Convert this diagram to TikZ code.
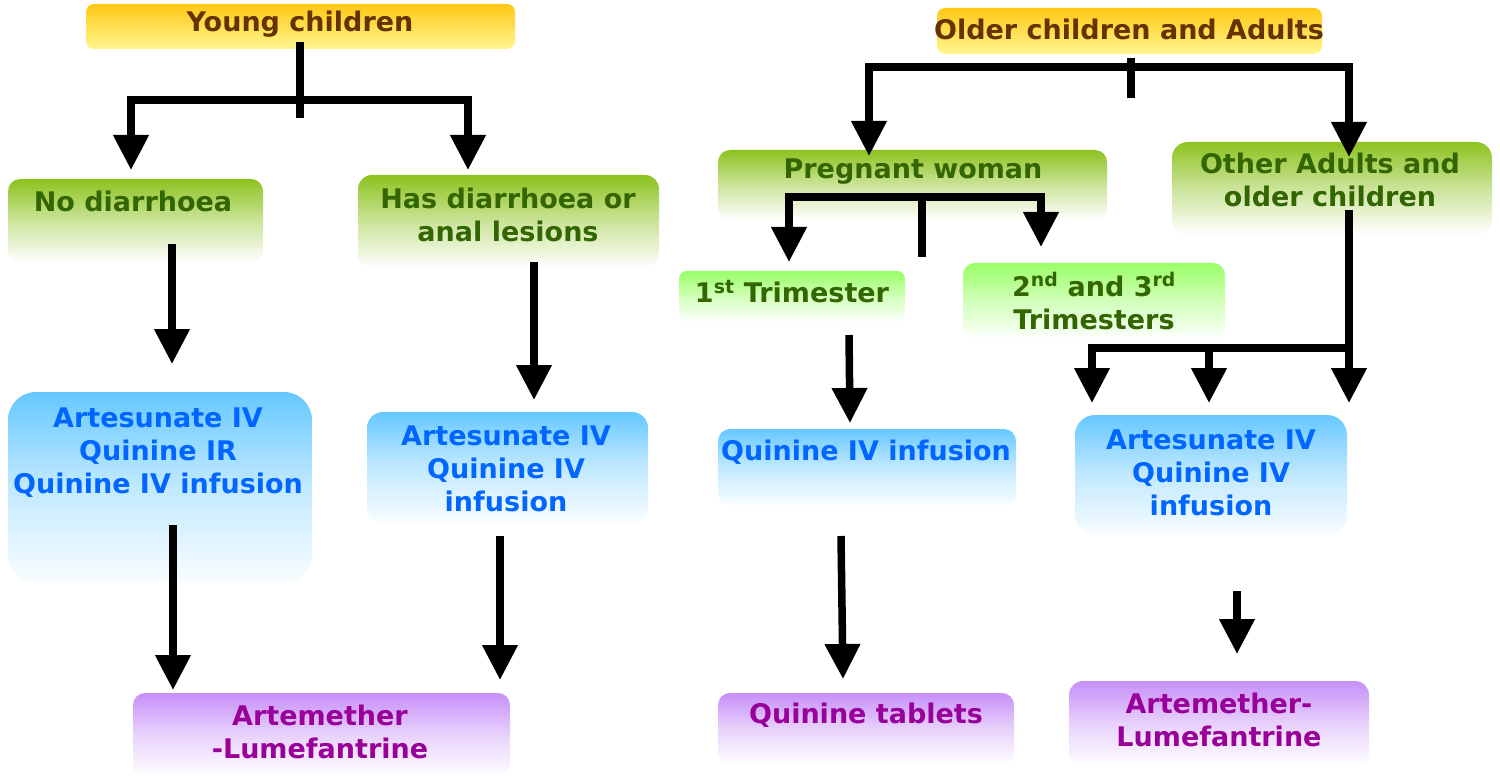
\documentclass[tikz,border=0pt]{standalone}
\usepackage{fontspec}
\setmainfont{DejaVu Sans}
\usetikzlibrary{arrows.meta}
\definecolor{ytop}{HTML}{FFC814}
\definecolor{ybot}{HTML}{FFF690}
\definecolor{gtop}{HTML}{8DC21F}
\definecolor{ltop}{HTML}{99FF66}
\definecolor{btop}{HTML}{66C8FF}
\definecolor{ptop}{HTML}{C68FF8}
\definecolor{ytxt}{HTML}{663300}
\definecolor{gtxt}{HTML}{336600}
\definecolor{btxt}{HTML}{0066FF}
\definecolor{ptxt}{HTML}{990099}
\begin{document}
\begin{tikzpicture}[x=1pt,y=-1pt,
  bx/.style={inner sep=0pt, rounded corners=12pt, draw=none},
  ybox/.style={bx, top color=ytop, bottom color=ybot, rounded corners=8pt},
  gbox/.style={bx, top color=gtop, bottom color=white, middle color=gtop!45!white},
  lbox/.style={bx, top color=ltop, bottom color=white, middle color=ltop!45!white},
  bbox/.style={bx, top color=btop, bottom color=white!96!btop, middle color=btop!40!white},
  pbox/.style={bx, top color=ptop, bottom color=white, middle color=ptop!40!white},
  tx/.style={font=\fontsize{27}{33}\selectfont\bfseries, align=center, inner sep=0pt},
  ytx/.style={tx, text=ytxt},
  gtx/.style={tx, text=gtxt},
  btx/.style={tx, text=btxt},
  ptx/.style={tx, text=ptxt},
  ln/.style={line width=7.5pt, line join=miter},
  arr/.style={ln, -{Triangle[width=34pt,length=35pt]}}]
\useasboundingbox (0,0) rectangle (1500,778);
% boxes
\node[ybox, minimum width=429, minimum height=45] (yc) at (300.5,26.5) {};
\node[ybox, minimum width=385, minimum height=46] (oa) at (1129.5,31) {};
\node[gbox, minimum width=255, minimum height=83] (nd) at (135.5,220.5) {};
\node[gbox, minimum width=301, minimum height=93, rounded corners=14pt] (hd) at (508.5,221.5) {};
\node[gbox, minimum width=389, minimum height=70] (pw) at (912.5,185) {};
\node[gbox, minimum width=320, minimum height=93, rounded corners=16pt] (ot) at (1332,188.5) {};
\node[lbox, minimum width=226, minimum height=51, rounded corners=8pt] (t1) at (792,296.5) {};
\node[lbox, minimum width=262, minimum height=77] (t2) at (1094,301.5) {};
\node[bbox, minimum width=304, minimum height=191, rounded corners=28pt] (b1) at (160,487.5) {};
\node[bbox, minimum width=281, minimum height=111, rounded corners=16pt] (b2) at (507.5,467.5) {};
\node[bbox, minimum width=298, minimum height=76] (b3) at (867,467) {};
\node[bbox, minimum width=272, minimum height=120, rounded corners=20pt] (b4) at (1211,475) {};
\node[pbox, minimum width=377, minimum height=84] (p1) at (321.5,735) {};
\node[pbox, minimum width=296, minimum height=72] (p2) at (866,729) {};
\node[pbox, minimum width=300, minimum height=86, rounded corners=14pt] (p3) at (1219,724) {};
% texts
\node[ytx] (yct) at (300,24) {Young children};
\node[ytx] (oat) at (1129,29) {Older children and Adults};
\node[gtx] (ndt) at (133,201) {No diarrhoea};
\node[gtx] (hdt) at (508,215) {Has diarrhoea or\\anal lesions};
\node[gtx] (pwt) at (913,172) {Pregnant woman};
\node[gtx] (ott) at (1330,180) {Other Adults and\\older children};
\node[gtx] (t1t) at (792,292) {1\textsuperscript{st} Trimester};
\node[gtx] (t2t) at (1094,301) {2\textsuperscript{nd} and 3\textsuperscript{rd}\\Trimesters};
\node[btx] (b1t) at (158,453) {Artesunate IV\\Quinine IR\\Quinine IV infusion};
\node[btx] (b2t) at (506,469) {Artesunate IV\\Quinine IV\\infusion};
\node[btx] (b3t) at (866,452) {Quinine IV infusion};
\node[btx] (b4t) at (1211,473) {Artesunate IV\\Quinine IV\\infusion};
\node[ptx] (p1t) at (320,732) {Artemether\\-Lumefantrine};
\node[ptx] (p2t) at (866,715) {Quinine tablets};
\node[ptx] (p3t) at (1219,720) {Artemether-\\Lumefantrine};
% connector points
\coordinate (yctop) at (300,42);
\coordinate (ycstub) at (300,118);
\coordinate (yj) at (300,100);
\coordinate (ndin) at (131,170);
\coordinate (hdin) at (468,170);
\coordinate (ndout) at (172,244);
\coordinate (b1in) at (172,364);
\coordinate (hdout) at (534,262);
\coordinate (b2in) at (534,400);
\coordinate (b1out) at (173,525);
\coordinate (p1in) at (173,690);
\coordinate (b2out) at (500,536);
\coordinate (p1in2) at (500,680);
\coordinate (oatop) at (1131,58);
\coordinate (oastub) at (1131,98);
\coordinate (oaj) at (1131,67);
\coordinate (pwin) at (869,156);
\coordinate (otin) at (1349,157);
\coordinate (pwj) at (922,197);
\coordinate (pwstub) at (922,257);
\coordinate (t1in) at (789,262);
\coordinate (t2in) at (1041,247);
\coordinate (otout) at (1349,210);
\coordinate (b4in3) at (1349,403);
\coordinate (otj) at (1349,348);
\coordinate (b4in1) at (1092,403);
\coordinate (b4mid) at (1209,348);
\coordinate (b4in2) at (1209,403);
\coordinate (t1out) at (849,335);
\coordinate (b3in) at (850,423);
\coordinate (b3out) at (841,536);
\coordinate (p2in) at (843,679);
\coordinate (b4out) at (1237,591);
\coordinate (p3in) at (1237,654);
% connectors left
\draw[ln] (yctop) -- (ycstub);
\draw[arr] (yj) -| (ndin);
\draw[arr] (yj) -| (hdin);
\draw[arr] (ndout) -- (b1in);
\draw[arr] (hdout) -- (b2in);
\draw[arr] (b1out) -- (p1in);
\draw[arr] (b2out) -- (p1in2);
% connectors right
\draw[ln] (oatop) -- (oastub);
\draw[arr] (oaj) -| (pwin);
\draw[arr] (oaj) -| (otin);
\draw[ln] (pwj) -- (pwstub);
\draw[arr] (pwj) -| (t1in);
\draw[arr] (pwj) -| (t2in);
\draw[arr] (otout) -- (b4in3);
\draw[arr] (otj) -| (b4in1);
\draw[arr] (b4mid) -- (b4in2);
\draw[arr] (t1out) -- (b3in);
\draw[arr] (b3out) -- (p2in);
\draw[arr] (b4out) -- (p3in);
\end{tikzpicture}
\end{document}
